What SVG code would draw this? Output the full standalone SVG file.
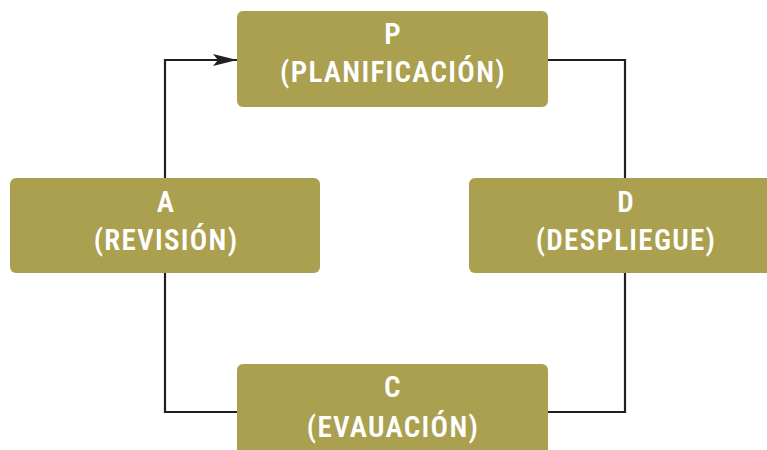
<svg xmlns="http://www.w3.org/2000/svg" width="767" height="450" viewBox="0 0 767 450">
<style>
.box{fill:#ab9f50}
.t{fill:#ffffff;font-family:"Liberation Sans Narrow","Roboto Condensed","Liberation Sans",sans-serif;font-size:29px;font-weight:600;letter-spacing:1.3px;text-anchor:middle}
.c{fill:none;stroke:#231f20;stroke-width:2.2}
</style>
<defs>
<marker id="ah" markerWidth="24" markerHeight="12" refX="24" refY="6" orient="auto" markerUnits="userSpaceOnUse">
<path d="M0,0 L24,6 L0,12 L5,6 Z" fill="#231f20"/>
</marker>
</defs>
<rect width="767" height="450" fill="#ffffff"/>
<g id="connectors">
<path class="c" d="M165,178 V60 H237" marker-end="url(#ah)"/>
<path class="c" d="M548,60 H625 V178"/>
<path class="c" d="M625,273 V412 H548"/>
<path class="c" d="M237,412 H165 V273"/>
</g>
<g id="P">
<rect class="box" x="237" y="11" width="311" height="96" rx="6"/>
<text class="t" x="393" y="44">P</text>
<text class="t" x="393" y="82">(PLANIFICACIÓN)</text>
</g>
<g id="A">
<rect class="box" x="10" y="178" width="310" height="95" rx="6"/>
<text class="t" x="166" y="212">A</text>
<text class="t" x="166" y="250">(REVISIÓN)</text>
</g>
<g id="D">
<rect class="box" x="469" y="178" width="310" height="95" rx="6"/>
<text class="t" x="626" y="212">D</text>
<text class="t" x="626" y="250">(DESPLIEGUE)</text>
</g>
<g id="C">
<rect class="box" x="237" y="364" width="311" height="96" rx="6"/>
<text class="t" x="393" y="397">C</text>
<text class="t" x="393" y="437">(EVAUACIÓN)</text>
</g>
</svg>
